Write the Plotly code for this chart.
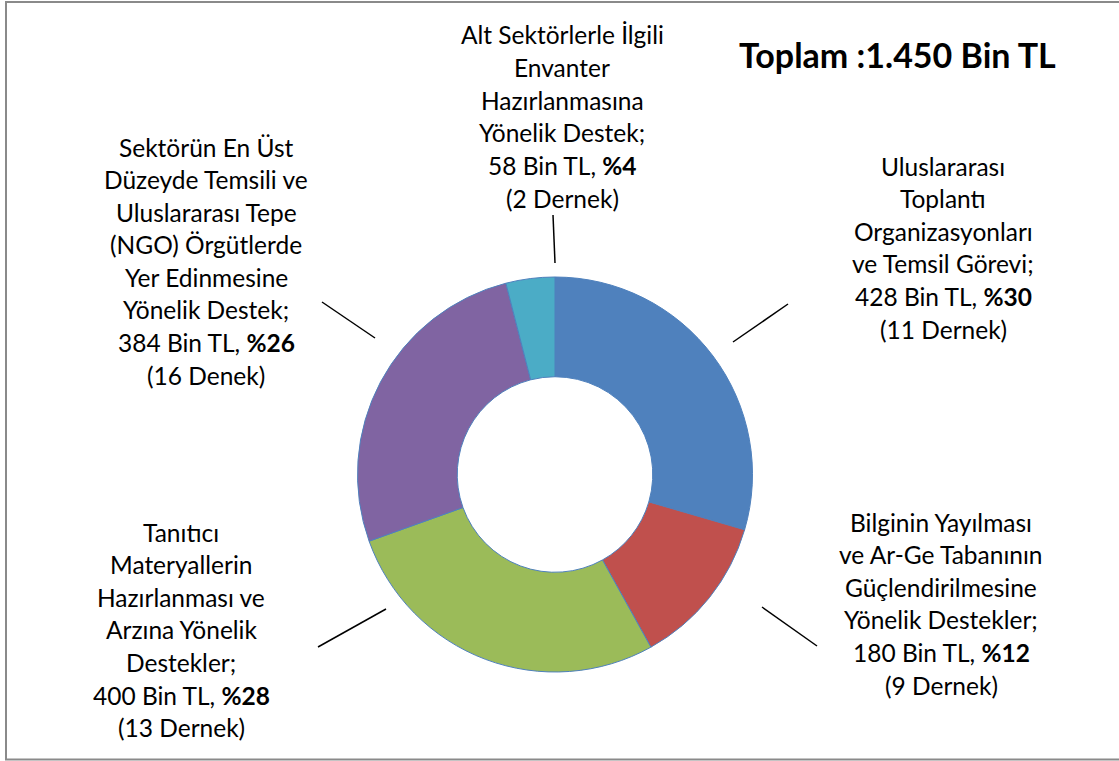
import plotly.graph_objects as go

# ---- data ----
category_lines = [
    ["Uluslararası", "Toplantı", "Organizasyonları", "ve Temsil Görevi;"],
    ["Bilginin Yayılması", "ve Ar-Ge Tabanının", "Güçlendirilmesine", "Yönelik Destekler;"],
    ["Tanıtıcı", "Materyallerin", "Hazırlanması ve", "Arzına Yönelik", "Destekler;"],
    ["Sektörün En Üst", "Düzeyde Temsili ve", "Uluslararası Tepe", "(NGO) Örgütlerde",
     "Yer Edinmesine", "Yönelik Destek;"],
    ["Alt Sektörlerle İlgili", "Envanter", "Hazırlanmasına", "Yönelik Destek;"],
]
values = [428, 180, 400, 384, 58]          # Bin TL
percents = [30, 12, 28, 26, 4]
dernek_labels = ["(11 Dernek)", "(9 Dernek)", "(13 Dernek)", "(16 Denek)", "(2 Dernek)"]
total_label = "Toplam :1.450 Bin TL"
colors = ["#4F81BD", "#C0504D", "#9BBB59", "#8064A2", "#4BACC6"]

# ---- layout constants (pixels) ----
W, H = 1119, 761
FONT = "Lato"
LABEL_SIZE = 24.5
TITLE_SIZE = 34
LINE_H = 32.6
label_center_x = [943, 941, 181, 206, 562]
label_first_y = [166, 522, 532, 147, 35]
leader_lines = [((733, 342), (788, 304)),
                ((762, 607), (817, 646)),
                ((386, 609), (318, 647)),
                ((375, 338), (322, 302)),
                ((555, 263), (553, 215))]

def px(x):
    return x / W

def py(y):
    return 1 - y / H

fig = go.Figure()
fig.add_trace(go.Pie(
    values=values,
    labels=[" ".join(l) for l in category_lines],
    sort=False,
    direction="clockwise",
    rotation=0,
    hole=0.495,
    textinfo="none",
    hoverinfo="label+value+percent",
    marker=dict(colors=colors, line=dict(color="#4F81BD", width=1)),
    domain=dict(x=[px(357), px(753)], y=[py(672), py(277)]),
    showlegend=False,
))

annotations = []
for i, lines in enumerate(category_lines):
    full = lines + [f"{values[i]} Bin TL, <b>%{percents[i]}</b>", dernek_labels[i]]
    for j, t in enumerate(full):
        annotations.append(dict(
            text=t, x=px(label_center_x[i]), y=py(label_first_y[i] + j * LINE_H),
            xref="paper", yref="paper", xanchor="center", yanchor="middle",
            showarrow=False, font=dict(family=FONT, size=LABEL_SIZE, color="#000000"),
        ))

annotations.append(dict(
    text=f"<b>{total_label}</b>", x=px(897), y=py(55), xref="paper", yref="paper",
    xanchor="center", yanchor="middle", showarrow=False,
    font=dict(family=FONT, size=TITLE_SIZE, color="#000000"),
))

shapes = []
for (a, b) in leader_lines:
    shapes.append(dict(type="line", xref="paper", yref="paper",
                       x0=px(a[0]), y0=py(a[1]), x1=px(b[0]), y1=py(b[1]),
                       line=dict(color="#000000", width=1.5)))
shapes.append(dict(type="rect", xref="paper", yref="paper",
                   x0=px(6), y0=py(2), x1=px(1125), y1=py(759.5),
                   line=dict(color="#8A8A8A", width=2), fillcolor="rgba(0,0,0,0)"))

fig.update_layout(
    width=W, height=H,
    margin=dict(l=0, r=0, t=0, b=0),
    paper_bgcolor="#FFFFFF", plot_bgcolor="#FFFFFF",
    annotations=annotations, shapes=shapes,
    font=dict(family=FONT),
)

fig.write_html(
    "out.html",
    config={"displayModeBar": False},
    post_script="document.body.style.margin='0';document.body.style.overflow='hidden';",
)
